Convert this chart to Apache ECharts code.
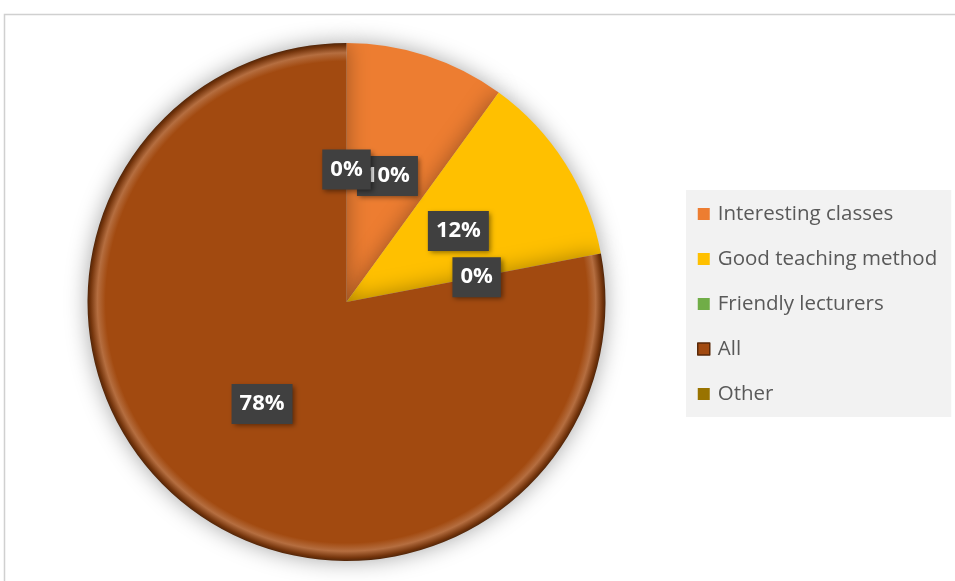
<!DOCTYPE html>
<html>
<head>
<meta charset="utf-8">
<script src="https://cdn.jsdelivr.net/npm/echarts@6/dist/echarts.min.js"></script>
<style>
  html, body { margin: 0; padding: 0; background: #ffffff; }
  #chart { width: 955px; height: 581px; }
</style>
</head>
<body>
<div id="chart"></div>
<script>
// Survey answers and their shares (percent)
const categories = ['Interesting classes', 'Good teaching method', 'Friendly lecturers', 'All', 'Other'];
const shares = [10, 12, 0, 78, 0];
const sliceColors = ['#ED7D31', '#FFC000', '#70AD47', '#A24A10', '#997300'];
const bevelled = [false, false, false, true, false];

const CX = 346.5, CY = 302, R = 259;

function shade(hex, amt) {
  const n = parseInt(hex.slice(1), 16);
  let r = (n >> 16) & 255, g = (n >> 8) & 255, b = n & 255;
  const f = c => Math.max(0, Math.min(255, Math.round(amt >= 0 ? c + (255 - c) * amt : c * (1 + amt))));
  return 'rgb(' + f(r) + ',' + f(g) + ',' + f(b) + ')';
}

// bevelled rim: flat fill, a light band near the edge, then a dark outer lip
function bevel(hex) {
  return {
    type: 'radial', x: CX, y: CY, r: R, global: true,
    colorStops: [
      { offset: 0, color: hex },
      { offset: 0.93, color: hex },
      { offset: 0.962, color: shade(hex, 0.2) },
      { offset: 0.988, color: shade(hex, -0.28) },
      { offset: 1, color: shade(hex, -0.5) }
    ]
  };
}

const chart = echarts.init(document.getElementById('chart'), null, { renderer: 'canvas' });

chart.setOption({
  animation: false,
  backgroundColor: '#ffffff',
  graphic: [{
    type: 'rect',
    shape: { x: 4.5, y: 14.5, width: 1000, height: 1000 },
    style: { fill: 'none', stroke: '#d0d0d0', lineWidth: 1.5 },
    z: -10
  }],
  legend: {
    orient: 'vertical',
    left: 686,
    top: 190,
    backgroundColor: '#f2f2f2',
    padding: [12, 14, 11, 11],
    itemGap: 21,
    itemWidth: 12,
    itemHeight: 12,
    icon: 'rect',
    selectedMode: false,
    textStyle: {
      fontFamily: 'Open Sans',
      fontSize: 20.5,
      lineHeight: 24,
      color: '#595959',
      padding: [0, 0, 0, 3]
    },
    data: categories.map((c, i) => ({
      name: c,
      itemStyle: bevelled[i]
        ? { color: sliceColors[i], borderColor: shade(sliceColors[i], -0.45), borderWidth: 1.5 }
        : { color: sliceColors[i] }
    }))
  },
  series: [{
    type: 'pie',
    center: [CX, CY],
    radius: R,
    startAngle: 90,
    clockwise: true,
    avoidLabelOverlap: false,
    minShowLabelAngle: 0,
    labelLayout: { hideOverlap: false },
    itemStyle: {
      borderWidth: 0,
      shadowBlur: 22,
      shadowColor: 'rgba(0,0,0,0.35)'
    },
    emphasis: { disabled: true },
    label: {
      show: true,
      position: 'inside',
      formatter: p => Math.round(p.percent) + '%',
      color: '#ffffff',
      fontFamily: 'Open Sans',
      fontWeight: 'bold',
      fontSize: 22,
      lineHeight: 24,
      backgroundColor: '#404040',
      padding: [8, 8],
      shadowBlur: 5,
      shadowColor: 'rgba(0,0,0,0.45)',
      shadowOffsetX: 2,
      shadowOffsetY: 2
    },
    labelLine: { show: false },
    data: categories.map((c, i) => ({
      name: c,
      value: shares[i],
      itemStyle: { color: bevelled[i] ? bevel(sliceColors[i]) : sliceColors[i] }
    }))
  }]
});
</script>
</body>
</html>
